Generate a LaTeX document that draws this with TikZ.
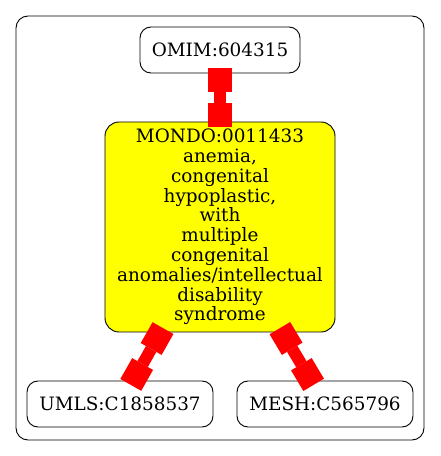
\documentclass[tikz,border=0pt]{standalone}
\usepackage{fontspec}
\setmainfont{DejaVu Serif}
\usepackage{tikz}
\usetikzlibrary{arrows.meta, positioning}
\definecolor{xrefred}{HTML}{FF0000}
\definecolor{xrefyellow}{HTML}{FFFF00}
\tikzset{
  xref/.style={draw, line width=0.9pt, rounded corners=11pt, minimum height=46pt, inner sep=2pt},
  xlink/.style={xrefred, line width=12pt,
    {Square[length=24pt, width=24pt, line width=0pt]}-{Square[length=24pt, width=24pt, line width=0pt]},
    shorten <=-5pt, shorten >=-5pt}
}

\begin{document}
\begin{tikzpicture}[x=1pt, y=1pt, font=\fontsize{18.4}{19.8}\selectfont]
  \useasboundingbox (0,0) rectangle (440,456);
  % cornice
  \node[draw, line width=0.9pt, rounded corners=12pt, minimum width=408pt, minimum height=424pt] (frame) at (220,228) {};
  % OMIM
  \node[xref, minimum width=160pt] (omim) at (220,406) {OMIM:604315};
  % MONDO
  \node[xref, fill=xrefyellow, rounded corners=14pt, minimum width=230pt, minimum height=210pt, align=center] (mondo) at (220,229)
    {MONDO:0011433\\anemia,\\congenital\\hypoplastic,\\with\\multiple\\congenital\\anomalies/intellectual\\disability\\syndrome};
  % UMLS e MESH
  \node[xref, minimum width=186pt] (umls) at (120,52) {UMLS:C1858537};
  \node[xref, minimum width=176pt] (mesh) at (325,52) {MESH:C565796};
  % collegamenti
  \draw[xlink] (omim) -- (mondo);
  \draw[xlink] (mondo) -- (umls);
  \draw[xlink] (mondo) -- (mesh);
\end{tikzpicture}
\end{document}
